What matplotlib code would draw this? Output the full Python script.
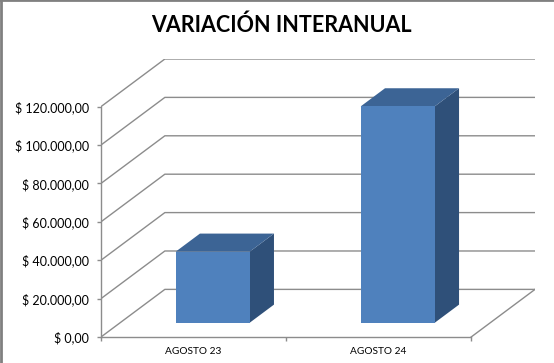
import numpy as np
from matplotlib import pyplot as plt
from matplotlib.patches import Polygon
from matplotlib.lines import Line2D

categories = ['AGOSTO 23', 'AGOSTO 24']
values = [37000, 112700]
yticks = [0, 20000, 40000, 60000, 80000, 100000, 120000]
title = 'VARIACIÓN INTERANUAL'

plt.rcParams['font.family'] = ['Lato', 'DejaVu Sans']

# fake 3d: depth vector in data units (x in categories, y in value)
depth_x = 0.345
depth_y = 24800
bar_w = 0.4
d0, d1 = 0.30, 0.68

front = '#4F81BD'
top = '#3C6495'
side = '#2F5079'
grid = '#8C8C8C'

fig = plt.figure(figsize=(5.54, 3.63), dpi=100)
ax = fig.add_axes([101 / 554, 26 / 363, 434 / 554, 278 / 363])
ax.set_xlim(0, 2 + depth_x)
ax.set_ylim(0, 120000 + depth_y)

# back wall + side wall gridlines
for v in yticks:
    ax.plot([0, depth_x, 2 + depth_x], [v, v + depth_y, v + depth_y],
            color=grid, lw=1, zorder=1)
# floor right edge
ax.plot([2, 2 + depth_x], [0, depth_y], color=grid, lw=1, zorder=1)

# bars
for i, v in enumerate(values):
    x0 = i + 0.5 - bar_w / 2 + d0 * depth_x
    x1 = x0 + bar_w
    y0 = d0 * depth_y
    y1 = y0 + v
    ddx = (d1 - d0) * depth_x
    ddy = (d1 - d0) * depth_y
    ax.add_patch(Polygon([(x1, y0), (x1, y1), (x1 + ddx, y1 + ddy), (x1 + ddx, y0 + ddy)],
                         closed=True, facecolor=side, edgecolor='none', zorder=3))
    ax.add_patch(Polygon([(x0, y1), (x1, y1), (x1 + ddx, y1 + ddy), (x0 + ddx, y1 + ddy)],
                         closed=True, facecolor=top, edgecolor='none', zorder=3))
    ax.add_patch(Polygon([(x0, y0), (x1, y0), (x1, y1), (x0, y1)],
                         closed=True, facecolor=front, edgecolor='none', zorder=4))

for s in ['top', 'right']:
    ax.spines[s].set_visible(False)
ax.spines['left'].set_bounds(0, 120000)
ax.spines['bottom'].set_bounds(0, 2)
for s in ['left', 'bottom']:
    ax.spines[s].set_color(grid)
    ax.spines[s].set_linewidth(1)

ax.set_yticks(yticks)
ax.set_yticklabels(['$ ' + f'{v:,.2f}'.replace(',', 'X').replace('.', ',').replace('X', '.')
                    for v in yticks])
ax.set_xticks([0, 1, 2])
ax.set_xticklabels(['', '', ''])
ax.set_xticks([0.5, 1.5], minor=True)
ax.set_xticklabels(categories, minor=True)
ax.tick_params(axis='y', length=3, width=1, color=grid, pad=5.5, labelsize=9, labelcolor='black')
ax.tick_params(axis='x', which='major', length=3, width=1, color=grid)
ax.tick_params(axis='x', which='minor', length=0, pad=7, labelsize=7.3, labelcolor='black')
ax.patch.set_visible(False)

fig.text(281 / 554, 1 - 25 / 363, title, ha='center', va='center',
         fontsize=15.5, fontweight='bold')

# chart border
fig.add_artist(Line2D([0.001, 0.001], [0, 1], transform=fig.transFigure, color='#808080', lw=2))
fig.add_artist(Line2D([0, 1], [0.999, 0.999], transform=fig.transFigure, color='#808080', lw=2))

plt.savefig('out.png', dpi=100)
